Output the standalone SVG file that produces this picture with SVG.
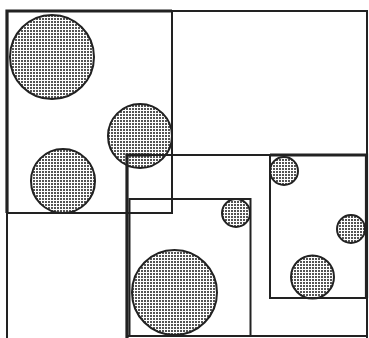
<svg xmlns="http://www.w3.org/2000/svg" width="369" height="338" viewBox="0 0 369 338">
  <defs>
    <pattern id="hatch" width="3" height="3" patternUnits="userSpaceOnUse">
      <rect width="3" height="3" fill="#fff"/>
      <rect width="2" height="2" fill="#555"/>
    </pattern>
  </defs>
  <style>
    .dot { fill: url(#hatch); stroke: #222; stroke-width: 2; }
    .box { fill: none; stroke: #222; stroke-width: 2; }
    .thick { fill: none; stroke: #222; stroke-width: 3.2; }
  </style>
  <rect width="369" height="338" fill="#fff"/>
  <g id="circles">
    <circle class="dot" cx="52" cy="57" r="42"/>
    <circle class="dot" cx="140" cy="136" r="32"/>
    <circle class="dot" cx="63" cy="181" r="32"/>
    <circle class="dot" cx="174.5" cy="292.5" r="42.5"/>
    <circle class="dot" cx="236" cy="213" r="14"/>
    <circle class="dot" cx="284" cy="171" r="14"/>
    <circle class="dot" cx="351" cy="229" r="14"/>
    <circle class="dot" cx="312.5" cy="277" r="21.5"/>
  </g>
  <g id="outer">
    <rect class="box" x="7" y="11" width="360" height="340"/>
  </g>
  <g id="box-a">
    <rect class="box" x="7" y="11" width="165" height="202"/>
    <path class="thick" d="M7,213 V11 H172"/>
  </g>
  <g id="box-b">
    <path class="box" d="M127,155 H367 V336 H127"/>
    <path class="thick" d="M127,338 V155 H150"/>
  </g>
  <g id="box-c">
    <rect class="box" x="129.5" y="199" width="121" height="137"/>
  </g>
  <g id="box-d">
    <rect class="box" x="270" y="155" width="97" height="143"/>
    <path class="thick" d="M270,155 H366.5 V298"/>
  </g>
  <g id="connectors"/>
</svg>
